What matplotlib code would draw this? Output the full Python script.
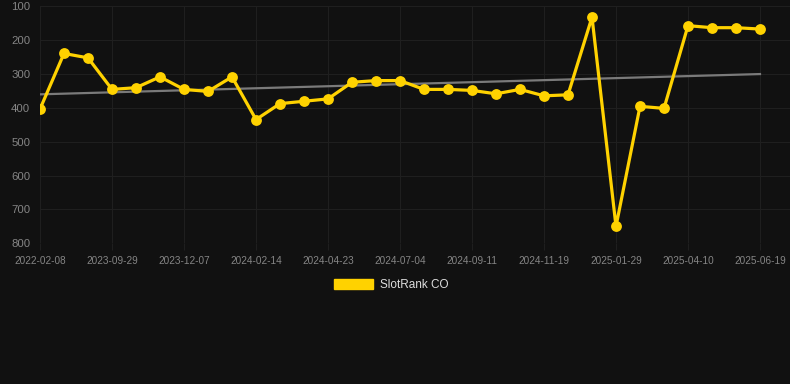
import numpy as np
import matplotlib
matplotlib.use("Agg")
import matplotlib.pyplot as plt
from matplotlib.patches import Patch

plt.rcParams['font.family'] = ['Liberation Sans', 'DejaVu Sans']

dates = ["2022-02-08", "", "", "2023-09-29", "", "", "2023-12-07", "", "",
         "2024-02-14", "", "", "2024-04-23", "", "", "2024-07-04", "", "",
         "2024-09-11", "", "", "2024-11-19", "", "", "2025-01-29", "", "",
         "2025-04-10", "", "", "2025-06-19"]
rank = [404, 240, 253, 346, 341, 309, 346, 352, 309, 435, 388, 381, 374,
        325, 320, 320, 346, 346, 349, 359, 346, 365, 362, 133, 750, 396,
        402, 158, 164, 164, 168]

bg = "#111111"
gold = "#FFD200"

fig = plt.figure(figsize=(7.9, 3.84), dpi=100, facecolor=bg)
ax = fig.add_axes([40 / 790, 1 - 243.3 / 384, 750 / 790, 237.3 / 384], facecolor=bg)

x = np.arange(len(rank))

# trend line (least squares fit)
k, b = np.polyfit(x, rank, 1)
ax.plot(x, k * x + b, color="#7a7a7a", lw=1.6, zorder=2)

ax.plot(x, rank, color=gold, lw=2.3, marker="o", markersize=7.8,
        markeredgewidth=0, zorder=3)

ax.set_ylim(800, 100)
ax.set_xlim(0, 31.25)
ax.set_yticks(range(100, 801, 100))
ax.set_xticks(x[::3])
ax.set_xticklabels([d for d in dates if d])

ax.grid(True, color="#1f1f1f", lw=0.8)
for s in ax.spines.values():
    s.set_visible(False)
ax.tick_params(axis="y", length=0, pad=7, labelsize=8.2, labelcolor="#858585")
ax.tick_params(axis="x", length=5, color="#1f1f1f", pad=4, labelsize=7.2, labelcolor="#858585")

leg = fig.legend(handles=[Patch(facecolor=gold, edgecolor=gold, label="SlotRank CO")],
                 loc="center", bbox_to_anchor=(0.495, 1 - 285 / 384), frameon=False,
                 handlelength=3.3, handleheight=1.0, handletextpad=0.55,
                 fontsize=8.5, labelcolor="#dddddd")

fig.savefig("out.png", dpi=100, facecolor=bg)
